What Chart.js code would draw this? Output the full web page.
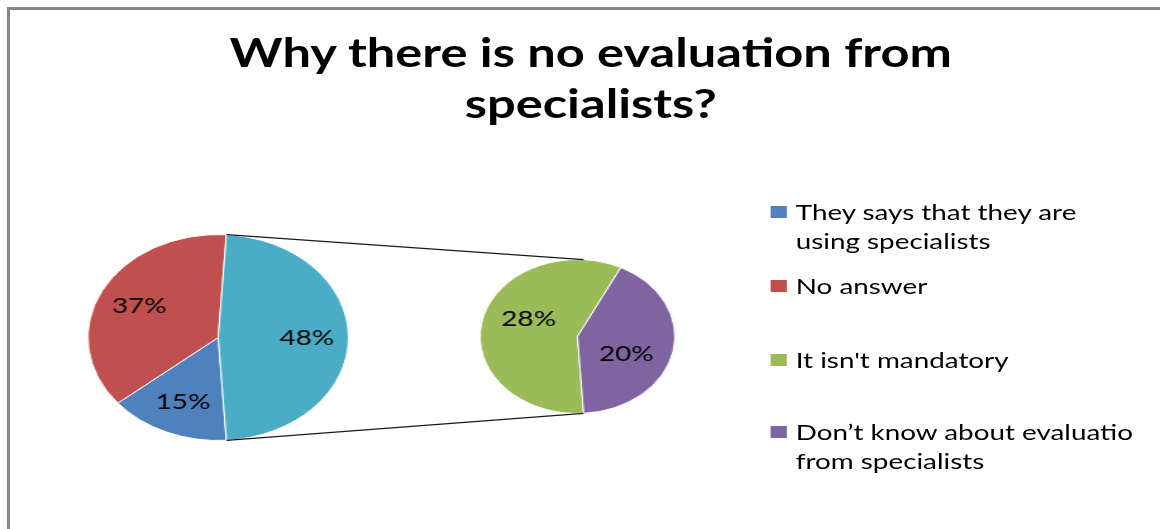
<!DOCTYPE html>
<html lang="en">
<head>
  <meta charset="UTF-8" />
  <title>Why there is no evaluation from specialists?</title>
  <script src="https://cdn.jsdelivr.net/npm/chart.js"></script>
  <style>
    body {
      margin: 0;
      background-color: #fff;
      font-family: Lato, "Open Sans", sans-serif;
      overflow: hidden;
    }
    /* grey frame, only top and left show in the picture */
    .frame {
      position: absolute;
      left: 7px;
      top: 7px;
      width: 1200px;
      height: 600px;
      border-left: 3px solid #868686;
      border-top: 3px solid #868686;
    }
    /* the whole chart is stretched sideways, like the original */
    .stage {
      position: absolute;
      left: 0;
      top: 0;
      width: 917px;
      height: 529px;
      transform: scaleX(1.265);
      transform-origin: 0 0;
    }
    .layer {
      position: absolute;
      left: 0;
      top: 0;
      width: 917px;
      height: 529px;
    }
    .title {
      position: absolute;
      left: 167px;
      width: 600px;
      top: 27px;
      text-align: center;
      font-weight: bold;
      font-size: 40px;
      line-height: 51px;
      color: #000;
    }
    .legend-item {
      position: absolute;
      left: 609px;
      font-size: 22px;
      line-height: 29px;
      color: #000;
      white-space: pre;
    }
    .legend-item .box {
      position: absolute;
      left: 0;
      top: 9px;
      width: 13px;
      height: 12px;
    }
    .legend-item .txt {
      margin-left: 20px;
    }
  </style>
</head>
<body>
  <div class="frame"></div>
  <div class="stage">
    <div class="title">Why there is no evaluation from<br>specialists?</div>
    <div class="layer"><canvas id="mainPie"></canvas></div>
    <div class="layer"><canvas id="subPie"></canvas></div>
    <div id="legend"></div>
  </div>

  <script>
    const categories = [
      'They says that they are\nusing specialists',
      'No answer',
      "It isn't mandatory",
      'Don\u2019t know about evaluatio\nfrom specialists'
    ];
    const shares = [15, 37, 28, 20];
    const colors = ['#4F81BD', '#C0504D', '#9BBB59', '#8064A2'];
    const otherColor = '#4BACC6';
    // the first two stay in the main pie, the rest go to the second pie
    const splitAt = 2;

    const mainValues = shares.slice(0, splitAt).concat([shares.slice(splitAt).reduce((a, b) => a + b, 0)]);
    const mainColors = colors.slice(0, splitAt).concat([otherColor]);
    const subValues = shares.slice(splitAt);
    const subColors = colors.slice(splitAt);

    // the "other" slice is centred on 3 o'clock
    const total = mainValues.reduce((a, b) => a + b, 0);
    const otherHalf = mainValues[splitAt] / total * 180;
    const rotation = 90 + otherHalf;

    // percent labels inside the slices
    const sliceLabels = {
      id: 'sliceLabels',
      afterDatasetsDraw(chart, args, opts) {
        const ctx = chart.ctx;
        const data = chart.data.datasets[0].data;
        ctx.save();
        ctx.font = '22px Lato';
        ctx.fillStyle = '#000';
        ctx.textAlign = 'center';
        ctx.textBaseline = 'middle';
        chart.getDatasetMeta(0).data.forEach((arc, i) => {
          const p = arc.getProps(['x', 'y', 'startAngle', 'endAngle', 'outerRadius'], true);
          const a = (p.startAngle + p.endAngle) / 2 + opts.shift * Math.PI / 180;
          const r = p.outerRadius * opts.at;
          ctx.fillText(data[i] + '%', p.x + r * Math.cos(a), p.y + r * Math.sin(a));
        });
        ctx.restore();
      }
    };

    function pieOptions(padding, labelAt, labelShift) {
      return {
        responsive: true,
        maintainAspectRatio: false,
        animation: false,
        events: [],
        rotation: rotation,
        layout: { padding: padding },
        plugins: {
          legend: { display: false },
          tooltip: { enabled: false },
          title: { display: false },
          sliceLabels: { at: labelAt, shift: labelShift }
        }
      };
    }

    const mainChart = new Chart(document.getElementById('mainPie'), {
      type: 'pie',
      data: {
        labels: ['They says that they are using specialists', 'No answer', 'Other'],
        datasets: [{
          data: mainValues,
          backgroundColor: mainColors,
          borderColor: '#ffffff',
          borderWidth: 1
        }]
      },
      options: pieOptions({ left: 69, right: 641, top: 234, bottom: 88 }, 0.68, 0),
      plugins: [sliceLabels]
    });

    // lines from the edges of the "other" slice to the second pie
    const connectors = {
      id: 'connectors',
      afterDatasetsDraw(chart) {
        const other = mainChart.getDatasetMeta(0).data[splitAt]
          .getProps(['x', 'y', 'startAngle', 'endAngle', 'outerRadius'], true);
        const sub = chart.getDatasetMeta(0).data[0].getProps(['x', 'y', 'outerRadius'], true);
        const ctx = chart.ctx;
        ctx.save();
        ctx.strokeStyle = '#1a1a1a';
        ctx.lineWidth = 1.2;
        ctx.beginPath();
        [other.startAngle, other.endAngle].forEach(a => {
          ctx.moveTo(other.x + other.outerRadius * Math.cos(a), other.y + other.outerRadius * Math.sin(a));
          ctx.lineTo(sub.x + sub.outerRadius * Math.cos(a), sub.y + sub.outerRadius * Math.sin(a));
        });
        ctx.stroke();
        ctx.restore();
      }
    };

    new Chart(document.getElementById('subPie'), {
      type: 'pie',
      data: {
        labels: categories.slice(splitAt),
        datasets: [{
          data: subValues,
          backgroundColor: subColors,
          borderColor: '#ffffff',
          borderWidth: 1
        }]
      },
      options: pieOptions({ left: 379, right: 383, top: 259, bottom: 115 }, 0.55, 13),
      plugins: [sliceLabels, connectors]
    });

    // legend, one entry per category
    const legendTops = [197, 271, 345, 417];
    const legend = document.getElementById('legend');
    categories.forEach((name, i) => {
      const item = document.createElement('div');
      item.className = 'legend-item';
      item.style.top = legendTops[i] + 'px';
      item.innerHTML = '<span class="box" style="background:' + colors[i] + '"></span>';
      const txt = document.createElement('div');
      txt.className = 'txt';
      txt.textContent = name;
      item.appendChild(txt);
      legend.appendChild(item);
    });
  </script>
</body>
</html>
